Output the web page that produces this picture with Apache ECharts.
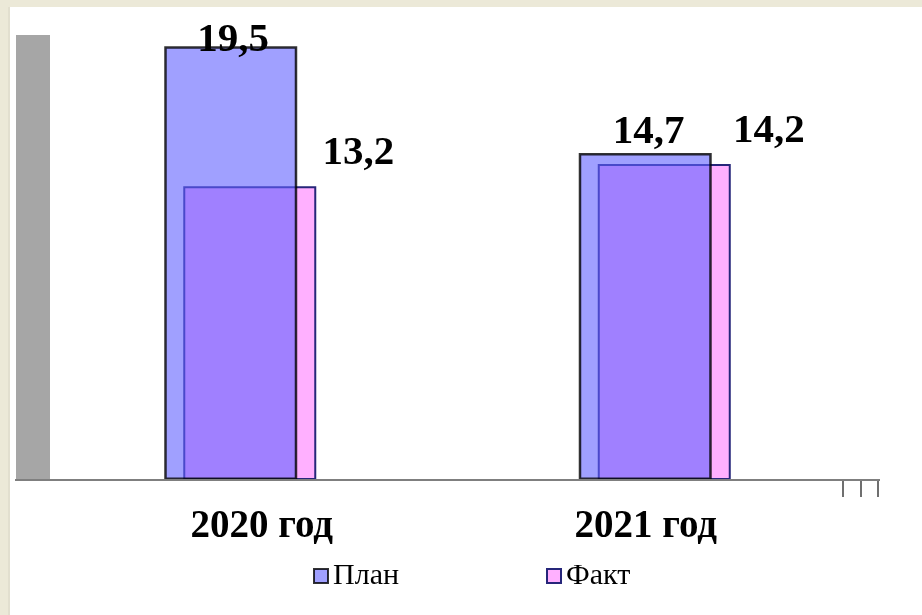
<!DOCTYPE html>
<html>
<head>
<meta charset="utf-8">
<script src="https://cdn.jsdelivr.net/npm/echarts@6/dist/echarts.min.js"></script>
<style>
html,body{margin:0;padding:0;background:#fff;}
#chart{width:922px;height:615px;}
</style>
</head>
<body>
<div id="chart"></div>
<script>
const categories = ['2020 год', '2021 год'];
const planValues = [19.5, 14.7];
const factValues = [13.2, 14.2];
const seriesNames = ['План', 'Факт'];

// label placement (style, relative to bar rect)
const planLabelPos = [[69, -6], [70, -21]];
const factLabelPos = [[175, -33], [171, -33]];

const fmt = v => String(v).replace('.', ',');
const labelFont = {fontFamily: '"Liberation Serif", "Times New Roman", serif', fontWeight: 'bold', fontSize: 41, color: '#000'};

function buildData(values, posArr) {
  return values.map((v, i) => ({
    value: v,
    label: {show: true, position: posArr[i], align: 'center', verticalAlign: 'middle', formatter: p => fmt(p.value), ...labelFont}
  }));
}

const chart = echarts.init(document.getElementById('chart'), null, {renderer: 'canvas'});
chart.setOption({
  backgroundColor: '#ffffff',
  animation: false,
  grid: {left: 33, right: 60, top: 35, bottom: 135, containLabel: false},
  legend: {
    data: seriesNames,
    left: 308, top: 556,
    itemWidth: 14, itemHeight: 14, itemGap: 147,
    icon: 'rect',
    textStyle: {fontFamily: '"Liberation Serif", "Times New Roman", serif', fontSize: 30, color: '#000'}
  },
  xAxis: {
    type: 'category',
    data: categories,
    axisLine: {show: false},
    axisTick: {show: false},
    axisLabel: {
      margin: 27,
      formatter: (v, i) => i === 0 ? '{a|' + v + '}' : '{b|' + v + '}',
      rich: {
        a: {padding: [0, 0, 0, 43], ...labelFont, fontSize: 39},
        b: {padding: [0, 18, 0, 0], ...labelFont, fontSize: 39}
      }
    }
  },
  yAxis: {type: 'value', min: 0, max: 20, show: false, splitLine: {show: false}},
  graphic: [
    {type: 'rect', shape: {x: 0, y: 0, width: 10, height: 615}, style: {fill: '#ECE9D8'}, z: 100},
    {type: 'rect', shape: {x: 0, y: 0, width: 922, height: 7}, style: {fill: '#ECE9D8'}, z: 100},
    {type: 'line', shape: {x1: 9, y1: 7, x2: 9, y2: 615}, style: {stroke: '#D8D5C6', lineWidth: 1}, z: 101},
    {type: 'rect', shape: {x: 16, y: 35, width: 34, height: 445}, style: {fill: '#A6A6A6'}, z: 0},
    {type: 'line', shape: {x1: 15, y1: 480, x2: 880, y2: 480}, style: {stroke: '#7F7F7F', lineWidth: 2}, z: 10},
    {type: 'line', shape: {x1: 843, y1: 481, x2: 843, y2: 497}, style: {stroke: '#6F6F6F', lineWidth: 2}, z: 10},
    {type: 'line', shape: {x1: 861, y1: 481, x2: 861, y2: 497}, style: {stroke: '#6F6F6F', lineWidth: 2}, z: 10},
    {type: 'line', shape: {x1: 878, y1: 481, x2: 878, y2: 497}, style: {stroke: '#6F6F6F', lineWidth: 2}, z: 10}
  ],
  series: [
    {
      name: seriesNames[0], type: 'bar', z: 4,
      barWidth: 133, barGap: '-85.7%',
      data: buildData(planValues, planLabelPos),
      itemStyle: {color: 'rgba(96,96,255,0.6)', borderColor: 'rgba(0,0,0,0.8)', borderWidth: 2.5}
    },
    {
      name: seriesNames[1], type: 'bar', z: 3,
      barWidth: 133,
      data: buildData(factValues, factLabelPos),
      itemStyle: {color: '#FFB0FF', borderColor: '#26267A', borderWidth: 2}
    }
  ]
});
</script>
</body>
</html>
